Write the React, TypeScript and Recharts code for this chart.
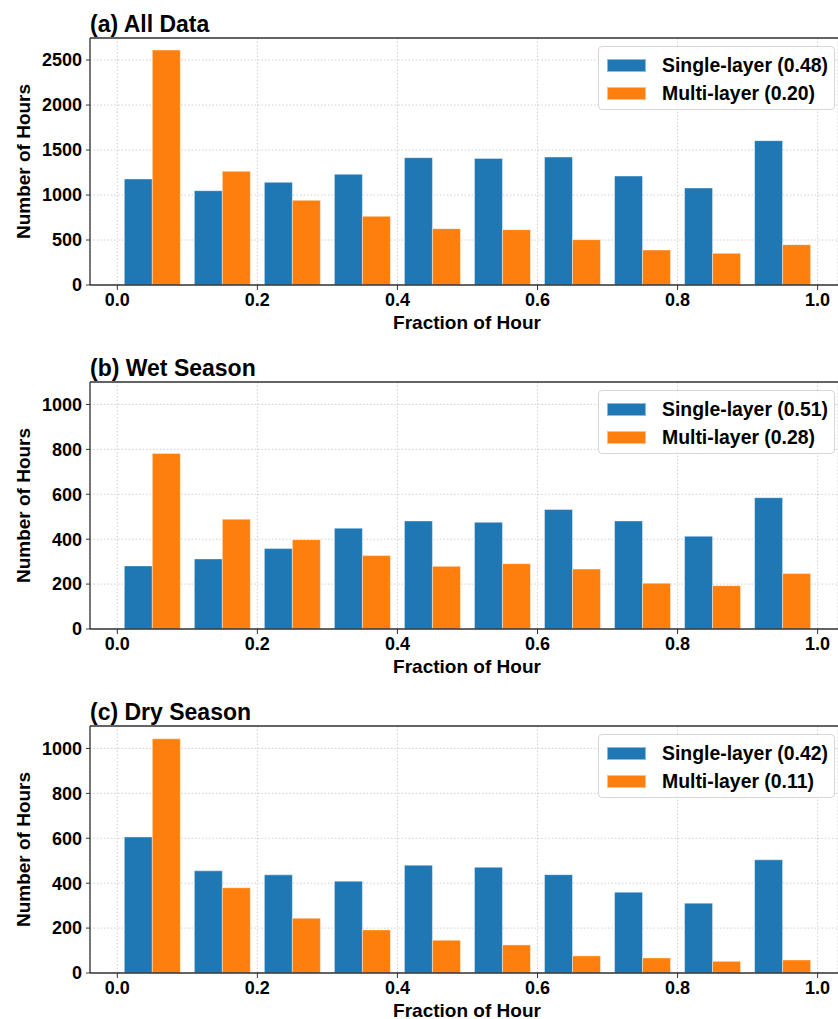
import {
  BarChart,
  Bar,
  XAxis,
  YAxis,
  CartesianGrid,
  Legend,
  ReferenceLine,
} from "recharts";

const binCenters = [0.05, 0.15, 0.25, 0.35, 0.45, 0.55, 0.65, 0.75, 0.85, 0.95];
const xTicks = [0, 0.2, 0.4, 0.6, 0.8, 1.0];

const allSingle = [1178, 1048, 1141, 1230, 1415, 1407, 1422, 1211, 1078, 1604];
const allMulti = [2611, 1263, 941, 763, 626, 615, 504, 389, 352, 448];
const wetSingle = [281, 312, 358, 449, 481, 475, 532, 481, 413, 585];
const wetMulti = [782, 489, 398, 327, 279, 291, 267, 204, 193, 247];
const drySingle = [606, 455, 437, 409, 480, 471, 438, 360, 311, 504];
const dryMulti = [1043, 380, 244, 192, 146, 125, 76, 67, 52, 58];

const allTicks = [0, 500, 1000, 1500, 2000, 2500];
const seasonTicks = [0, 200, 400, 600, 800, 1000];

const BLUE = "#1f77b4";
const ORANGE = "#ff7f0e";
const SPINE = "#333333";
const FONT = '"Liberation Sans", Arial, Helvetica, sans-serif';

function LegendBox({ payload, order }: any) {
  // keep the legend in series order, not alphabetical
  const items = [...(payload || [])].sort(
    (a: any, b: any) => order.indexOf(a.value) - order.indexOf(b.value)
  );
  return (
    <div
      style={{
        boxSizing: "border-box",
        width: 237,
        height: 64,
        border: "1px solid #d6d6d6",
        borderRadius: 4,
        background: "rgba(255,255,255,0.85)",
        paddingTop: 4,
        paddingLeft: 8,
      }}
    >
      {items.map((p: any) => (
        <div key={p.value} style={{ display: "flex", alignItems: "center", height: 28 }}>
          <div
            style={{
              boxSizing: "border-box",
              width: 39,
              height: 13,
              background: p.color,
              border: "1px solid rgba(255,255,255,0.5)",
              marginRight: 16,
            }}
          />
          <span style={{ fontSize: 19.4, fontWeight: "bold", color: "#000", whiteSpace: "nowrap" }}>
            {p.value}
          </span>
        </div>
      ))}
    </div>
  );
}

interface PanelProps {
  title: string;
  single: number[];
  multi: number[];
  names: [string, string];
  yMax: number;
  yTicks: number[];
  top: number;
}

function Panel({ title, single, multi, names, yMax, yTicks, top }: PanelProps) {
  const data = binCenters.map((x, i) => ({ x, single: single[i], multi: multi[i] }));

  return (
    <div style={{ position: "absolute", left: 0, top, width: 838, height: 344 }}>
      <div
        style={{
          position: "absolute",
          left: 90,
          top: 10,
          fontSize: 23,
          fontWeight: "bold",
          lineHeight: "28px",
          color: "#000",
          whiteSpace: "nowrap",
        }}
      >
        {title}
      </div>
      <BarChart
        width={838}
        height={344}
        data={data}
        barGap={0}
        margin={{ top: 38, right: 0, left: 0, bottom: 0 }}
      >
        <CartesianGrid stroke="#c4c4c4" strokeDasharray="1.5 2" strokeWidth={0.8} />
        <XAxis
          dataKey="x"
          type="number"
          domain={[-0.039, 1.0291]}
          allowDataOverflow
          ticks={xTicks}
          tickFormatter={(v: number) => v.toFixed(1)}
          height={59}
          tickSize={5}
          tickMargin={3}
          axisLine={{ stroke: SPINE, strokeWidth: 1.3 }}
          tickLine={{ stroke: SPINE }}
          tick={{ fill: "#000", fontSize: 18, fontWeight: "bold" }}
          label={({ viewBox }: any) => (
            <text
              x={467}
              y={viewBox.y + 37}
              textAnchor="middle"
              dominantBaseline="central"
              fontSize={19}
              fontWeight="bold"
              fill="#000"
            >
              Fraction of Hour
            </text>
          )}
        />
        <YAxis
          type="number"
          domain={[0, yMax]}
          allowDataOverflow
          ticks={yTicks}
          width={90}
          tickSize={4}
          tickMargin={4}
          axisLine={{ stroke: SPINE, strokeWidth: 1.3 }}
          tickLine={{ stroke: SPINE }}
          tick={{ fill: "#000", fontSize: 18, fontWeight: "bold" }}
          label={({ viewBox }: any) => {
            const cx = 23;
            const cy = viewBox.y + viewBox.height / 2;
            return (
              <text
                x={cx}
                y={cy}
                transform={`rotate(-90, ${cx}, ${cy})`}
                textAnchor="middle"
                dominantBaseline="central"
                fontSize={19}
                fontWeight="bold"
                fill="#000"
              >
                Number of Hours
              </text>
            );
          }}
        />
        <ReferenceLine y={yMax} stroke={SPINE} strokeWidth={1.3} ifOverflow="visible" />
        <Legend
          layout="horizontal"
          verticalAlign="middle"
          align="center"
          content={<LegendBox order={names} />}
          wrapperStyle={{ position: "absolute", top: 46, left: 598, width: 237, height: 64 }}
        />
        <Bar
          dataKey="single"
          name={names[0]}
          fill={BLUE}
          barSize={28}
          stroke="#ffffff"
          strokeOpacity={0.6}
          strokeWidth={0.7}
          isAnimationActive={false}
        />
        <Bar
          dataKey="multi"
          name={names[1]}
          fill={ORANGE}
          barSize={28}
          stroke="#ffffff"
          strokeOpacity={0.6}
          strokeWidth={0.7}
          isAnimationActive={false}
        />
      </BarChart>
    </div>
  );
}

export default function App() {
  return (
    <div
      style={{
        position: "absolute",
        left: 0,
        top: 0,
        width: 838,
        height: 1019,
        overflow: "hidden",
        background: "#fff",
        fontFamily: FONT,
      }}
    >
      <Panel
        title="(a) All Data"
        single={allSingle}
        multi={allMulti}
        names={["Single-layer (0.48)", "Multi-layer (0.20)"]}
        yMax={2745}
        yTicks={allTicks}
        top={0}
      />
      <Panel
        title="(b) Wet Season"
        single={wetSingle}
        multi={wetMulti}
        names={["Single-layer (0.51)", "Multi-layer (0.28)"]}
        yMax={1100}
        yTicks={seasonTicks}
        top={344}
      />
      <Panel
        title="(c) Dry Season"
        single={drySingle}
        multi={dryMulti}
        names={["Single-layer (0.42)", "Multi-layer (0.11)"]}
        yMax={1100}
        yTicks={seasonTicks}
        top={688}
      />
    </div>
  );
}
